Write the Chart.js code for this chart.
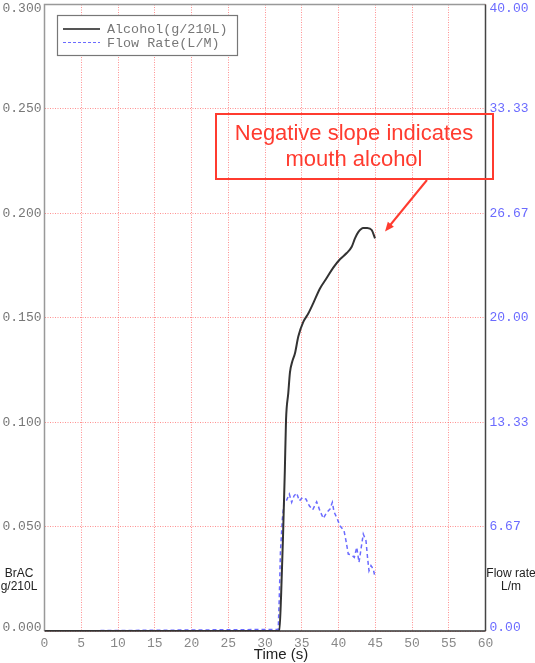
<!DOCTYPE html>
<html>
<head>
<meta charset="utf-8">
<script src="https://cdn.jsdelivr.net/npm/chart.js@4.4.1/dist/chart.umd.min.js"></script>
<style>
  html, body { margin: 0; padding: 0; background: #fff; }
  #wrap { width: 535px; height: 663px; position: relative; }
</style>
</head>
<body>
<div id="wrap"><canvas id="myChart" width="535" height="663"></canvas></div>
<script>
// alcohol (g/210L) vs time (s)
var alcoholTime = [0, 31.95, 32.2, 32.45, 32.7, 32.86, 33.17, 33.4, 33.71, 34.08, 34.53, 35.21, 35.89, 36.57,
    37.48, 38.39, 39.29, 40.2, 41.12, 41.8, 42.24, 42.69, 43.37, 43.92, 44.52, 44.97];
var alcoholValues = [0, 0, 0.018, 0.045, 0.077, 0.101, 0.114, 0.124, 0.129, 0.133, 0.141, 0.148, 0.152, 0.157,
    0.164, 0.169, 0.174, 0.178, 0.181, 0.184, 0.188, 0.191, 0.193, 0.193, 0.192, 0.188];

// flow rate (L/M) vs time (s)
var flowTime = [0, 31.8, 31.95, 32.1, 32.36, 32.59, 32.86, 33.31, 33.63, 33.95, 34.31, 34.67, 35.12, 35.58, 36.03,
    36.49, 37.03, 37.48, 37.93, 38.39, 38.84, 39.16, 39.39, 39.84, 40.2, 40.75, 41.02, 41.33, 41.79, 42.15,
    42.48, 42.79, 43.06, 43.37, 43.74, 43.97, 44.15, 44.42, 44.73, 44.97];
var flowValues = [0, 0.1, 2.25, 5.04, 7.15, 8.21, 8.27, 8.74, 8.21, 8.63, 8.8, 8.31, 8.53, 8.42, 7.99,
    7.74, 8.25, 7.67, 7.19, 7.57, 7.78, 8.21, 7.61, 7.15, 6.72, 6.4, 5.76, 4.91, 4.85, 4.7,
    5.34, 4.38, 5.23, 6.19, 5.76, 4.59, 3.85, 4.17, 3.96, 3.43];

var mono = '"Liberation Mono", "DejaVu Sans Mono", monospace';
var sans = '"Liberation Sans", Arial, sans-serif';
var gridRed = 'rgba(255,70,70,0.6)';
var flowBlue = '#6b6bff';

function pts(xs, ys) {
    return xs.map(function (t, i) { return {x: t, y: ys[i]}; });
}

// y tick labels drawn by hand so the end ones stay inside the frame
function drawYLabels(c, scale, area, x, align, color, digits) {
    c.fillStyle = color;
    c.textAlign = align;
    scale.ticks.forEach(function (t) {
        var y = scale.getPixelForValue(t.value);
        y = Math.max(area.top + 4.5, Math.min(area.bottom - 3.5, y));
        c.fillText(t.value.toFixed(digits), x, y);
    });
}

// frame, legend, axis titles and note
var decor = {
    id: 'decor',
    afterDatasetsDraw: function (chart) {
        var c = chart.ctx, a = chart.chartArea;
        c.save();
        c.lineWidth = 1.5;
        c.strokeStyle = '#999';
        c.beginPath();
        c.moveTo(a.right, a.top); c.lineTo(a.left, a.top); c.lineTo(a.left, a.bottom);
        c.stroke();
        c.strokeStyle = '#444';
        c.beginPath();
        c.moveTo(a.right, a.top); c.lineTo(a.right, a.bottom);
        c.stroke();
        c.strokeStyle = '#333';
        c.beginPath();
        c.moveTo(a.left, a.bottom); c.lineTo(a.right, a.bottom);
        c.stroke();

        c.font = '13px ' + mono;
        c.textBaseline = 'middle';
        drawYLabels(c, chart.scales.y, a, a.left - 3, 'right', '#777', 3);
        drawYLabels(c, chart.scales.y1, a, a.right + 4, 'left', flowBlue, 2);

        // legend
        c.fillStyle = '#fff';
        c.fillRect(57, 15, 180, 40);
        c.strokeStyle = '#777';
        c.lineWidth = 1.2;
        c.strokeRect(57.5, 15.5, 180, 40);
        c.lineWidth = 2;
        c.strokeStyle = '#555';
        c.beginPath(); c.moveTo(63, 29); c.lineTo(100, 29); c.stroke();
        c.lineWidth = 1;
        c.strokeStyle = flowBlue;
        c.setLineDash([3, 2]);
        c.beginPath(); c.moveTo(63, 42.5); c.lineTo(100, 42.5); c.stroke();
        c.setLineDash([]);
        c.fillStyle = '#777';
        c.font = '13.4px ' + mono;
        c.textAlign = 'left';
        c.fillText('Alcohol(g/210L)', 107, 29);
        c.fillText('Flow Rate(L/M)', 107, 43);

        // axis titles
        c.fillStyle = '#222';
        c.textAlign = 'center';
        c.font = '12px ' + sans;
        c.fillText('BrAC', 19, 574);
        c.fillText('g/210L', 19, 587);
        c.fillText('Flow rate', 511, 574);
        c.fillText('L/m', 511, 587);
        c.font = '15px ' + sans;
        c.fillText('Time (s)', 281, 655);

        // note box
        c.strokeStyle = '#ff3b2f';
        c.lineWidth = 2;
        c.strokeRect(216, 114, 277, 65);
        c.fillStyle = '#ff3b2f';
        c.font = '22px ' + sans;
        c.fillText('Negative slope indicates', 354, 134);
        c.fillText('mouth alcohol', 354, 160);
        // arrow toward the end of the alcohol trace
        var xs = chart.scales.x, ys = chart.scales.y;
        var n = alcoholTime.length - 1;
        var tx = xs.getPixelForValue(alcoholTime[n]) + 10;
        var ty = ys.getPixelForValue(alcoholValues[n]) - 7;
        var fx = 427, fy = 180;
        var ang = Math.atan2(ty - fy, tx - fx);
        c.beginPath(); c.moveTo(fx, fy); c.lineTo(tx - 6 * Math.cos(ang), ty - 6 * Math.sin(ang)); c.stroke();
        c.beginPath();
        c.moveTo(tx, ty);
        c.lineTo(tx - 10 * Math.cos(ang - 0.4), ty - 10 * Math.sin(ang - 0.4));
        c.lineTo(tx - 10 * Math.cos(ang + 0.4), ty - 10 * Math.sin(ang + 0.4));
        c.closePath();
        c.fill();
        c.restore();
    }
};

var ctx = document.getElementById('myChart');
var myChart = new Chart(ctx, {
    type: 'line',
    data: {
        datasets: [{
            label: 'Alcohol(g/210L)',
            data: pts(alcoholTime, alcoholValues),
            borderColor: '#333',
            borderWidth: 2,
            pointRadius: 0,
            cubicInterpolationMode: 'monotone',
            yAxisID: 'y'
        }, {
            label: 'Flow Rate(L/M)',
            data: pts(flowTime, flowValues),
            borderColor: flowBlue,
            borderWidth: 1.5,
            borderDash: [4, 3],
            pointRadius: 0,
            tension: 0,
            yAxisID: 'y1'
        }]
    },
    options: {
        responsive: false,
        animation: false,
        layout: {padding: {top: 4.5}},
        plugins: {
            legend: {display: false},
            tooltip: {enabled: false}
        },
        scales: {
            x: {
                type: 'linear',
                min: 0,
                max: 60,
                ticks: {stepSize: 5, color: '#888', font: {family: mono, size: 13}, padding: 5, maxRotation: 0},
                grid: {color: gridRed, drawTicks: false, lineWidth: 1},
                border: {display: false, dash: [1, 1.5]},
                afterFit: function (s) { s.height = 32; s.paddingLeft = 0; s.paddingRight = 0; }
            },
            y: {
                position: 'left',
                min: 0,
                max: 0.3,
                ticks: {stepSize: 0.05, display: false},
                grid: {color: gridRed, drawTicks: false, lineWidth: 1},
                border: {display: false, dash: [1, 1.5]},
                afterFit: function (s) { s.width = 44.5; s.paddingTop = 0; s.paddingBottom = 0; }
            },
            y1: {
                position: 'right',
                min: 0,
                max: 40,
                ticks: {count: 7, display: false},
                grid: {display: false, drawTicks: false},
                border: {display: false},
                afterFit: function (s) { s.width = 49.5; s.paddingTop = 0; s.paddingBottom = 0; }
            }
        }
    },
    plugins: [decor]
});
</script>
</body>
</html>
